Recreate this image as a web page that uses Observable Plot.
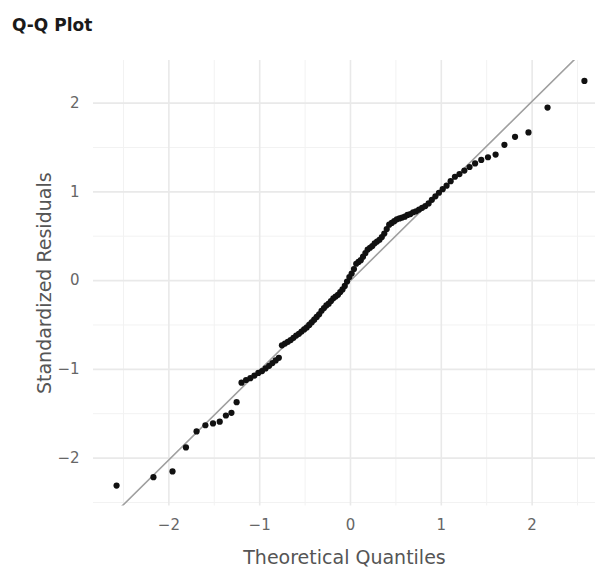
<!DOCTYPE html>
<html>
<head>
<meta charset="utf-8">
<script src="https://cdn.jsdelivr.net/npm/d3@7"></script>
<script src="https://cdn.jsdelivr.net/npm/@observablehq/plot@0.6"></script>
<style>
  body { margin: 0; background: #fff; font-family: "DejaVu Sans", sans-serif; }
  #title { height: 45px; box-sizing: border-box; padding: 15px 0 0 12px; font-size: 17px; font-weight: bold; color: #1a1a1a; line-height: 20px; }
</style>
</head>
<body>
<div id="title">Q-Q Plot</div>
<div id="chart"></div>
<script>
// Theoretical normal quantiles (n = 100)
const theoretical = [
  -2.576,-2.170,-1.960,-1.812,-1.695,-1.598,-1.514,-1.440,-1.372,-1.311,
  -1.254,-1.200,-1.150,-1.103,-1.058,-1.015,-0.974,-0.935,-0.896,-0.860,
  -0.824,-0.789,-0.755,-0.722,-0.690,-0.659,-0.628,-0.598,-0.568,-0.539,
  -0.510,-0.482,-0.454,-0.426,-0.399,-0.372,-0.345,-0.319,-0.292,-0.266,
  -0.240,-0.215,-0.189,-0.164,-0.138,-0.113,-0.088,-0.063,-0.038,-0.0125,
  0.0125,0.038,0.063,0.088,0.113,0.138,0.164,0.189,0.215,0.240,
  0.266,0.292,0.319,0.345,0.372,0.399,0.426,0.454,0.482,0.510,
  0.539,0.568,0.598,0.628,0.659,0.690,0.722,0.755,0.789,0.824,
  0.860,0.896,0.935,0.974,1.015,1.058,1.103,1.150,1.200,1.254,
  1.311,1.372,1.440,1.514,1.598,1.695,1.812,1.960,2.170,2.576
];
// Standardized residuals (sorted)
const residuals = [
  -2.31,-2.215,-2.15,-1.88,-1.70,-1.63,-1.61,-1.59,-1.52,-1.49,
  -1.37,-1.15,-1.12,-1.10,-1.07,-1.04,-1.02,-0.99,-0.96,-0.93,
  -0.90,-0.87,-0.73,-0.71,-0.69,-0.67,-0.645,-0.62,-0.60,-0.575,
  -0.55,-0.53,-0.50,-0.47,-0.44,-0.41,-0.38,-0.34,-0.31,-0.28,
  -0.26,-0.23,-0.20,-0.18,-0.16,-0.13,-0.10,-0.06,-0.01,0.04,
  0.08,0.13,0.19,0.21,0.23,0.27,0.31,0.35,0.37,0.39,
  0.42,0.44,0.46,0.49,0.53,0.58,0.63,0.65,0.67,0.69,
  0.70,0.71,0.72,0.74,0.75,0.77,0.78,0.80,0.82,0.84,
  0.87,0.91,0.95,0.99,1.03,1.07,1.12,1.17,1.20,1.24,
  1.28,1.32,1.36,1.39,1.42,1.53,1.62,1.67,1.95,2.25
];
const xTicks = [-2, -1, 0, 1, 2];
const yTicks = [-2, -1, 0, 1, 2];
const xMinor = [-2.5, -1.5, -0.5, 0.5, 1.5, 2.5];
const yMinor = [-2.5, -1.5, -0.5, 0.5, 1.5];
const refIntercept = 0;
const refSlope = 1.01;
const xLabel = "Theoretical Quantiles";
const yLabel = "Standardized Residuals";

const xDomain = [-2.83, 2.698];
const yDomain = [-2.54, 2.48];

const points = theoretical.map((t, i) => ({t, r: residuals[i]}));
const refLine = xDomain.map(x => ({t: x, r: refIntercept + refSlope * x}));

const chart = Plot.plot({
  width: 595,
  height: 523,
  marginTop: 15,
  marginBottom: 62.5,
  marginLeft: 93,
  marginRight: 0,
  style: {fontFamily: "DejaVu Sans, sans-serif", background: "#fff"},
  x: {domain: xDomain},
  y: {domain: yDomain},
  marks: [
    Plot.gridX(xMinor, {stroke: "#f2f2f2", strokeOpacity: 1, strokeWidth: 1}),
    Plot.gridY(yMinor, {stroke: "#f2f2f2", strokeOpacity: 1, strokeWidth: 1}),
    Plot.gridX(xTicks, {stroke: "#e9e9e9", strokeOpacity: 1, strokeWidth: 1.6}),
    Plot.gridY(yTicks, {stroke: "#e9e9e9", strokeOpacity: 1, strokeWidth: 1.6}),
    Plot.axisX(xTicks, {tickSize: 0, tickPadding: 13, fontSize: 15, fill: "#666", tickFormat: d3.format("d"), label: xLabel, labelAnchor: "center", labelArrow: "none", labelOffset: 58}),
    Plot.axisY(yTicks, {tickSize: 0, tickPadding: 14, fontSize: 15, fill: "#666", tickFormat: d3.format("d"), label: yLabel, labelAnchor: "center", labelArrow: "none", labelOffset: 56}),
    Plot.line(refLine, {x: "t", y: "r", stroke: "#a0a0a0", strokeWidth: 1.6, clip: true}),
    Plot.dot(points, {x: "t", y: "r", r: 3.1, fill: "#111", stroke: "none"})
  ]
});
document.getElementById("chart").appendChild(chart);
// axis title font size
chart.querySelectorAll("g[aria-label='x-axis label'] text, g[aria-label='y-axis label'] text").forEach(t => {
  t.setAttribute("font-size", "19");
  t.setAttribute("fill", "#555");
});
</script>
</body>
</html>
